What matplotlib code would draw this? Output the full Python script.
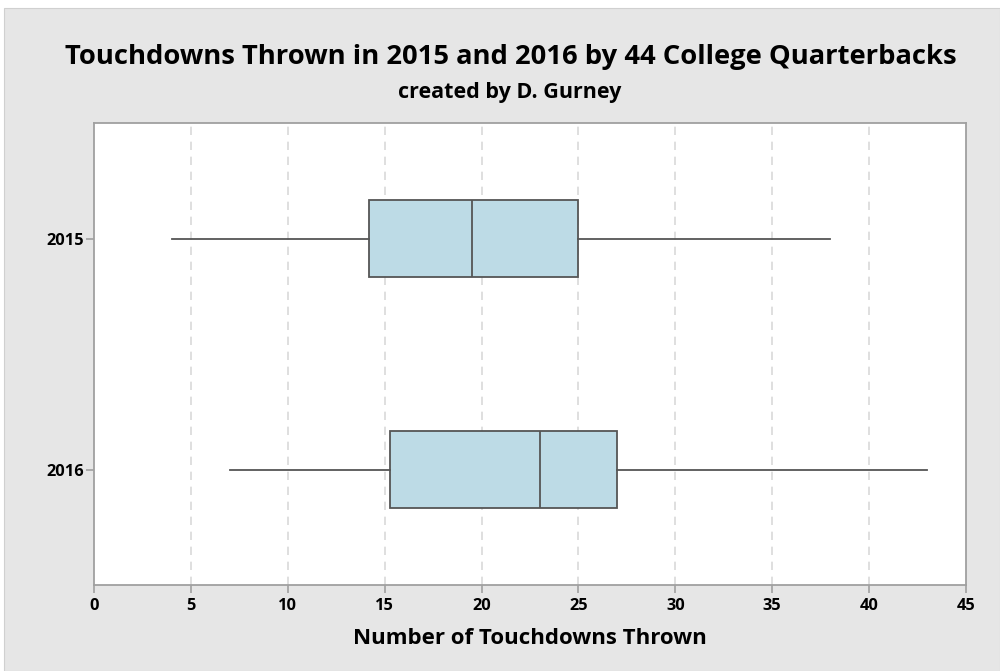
import matplotlib.pyplot as plt
from matplotlib.patches import Rectangle

plt.rcParams['font.family'] = ['Open Sans', 'DejaVu Sans']

# five-number summaries per season
years = ['2015', '2016']
lows = [4, 7]
q1s = [14.2, 15.25]
medians = [19.5, 23]
q3s = [25, 27]
highs = [38, 43]

fig = plt.figure(figsize=(10, 6.71), dpi=100)
fig.patch.set_facecolor('white')
fig.patches.append(Rectangle((0.004, 0), 0.996, 0.988, transform=fig.transFigure,
                             facecolor='#e6e6e6', edgecolor='#d0d0d0', lw=0.8, zorder=-1))

ax = fig.add_axes([0.094, 0.128, 0.872, 0.6886])
ax.set_facecolor('white')

stats = []
for yr, lo, a, m, b, hi in zip(years, lows, q1s, medians, q3s, highs):
    stats.append({'label': yr, 'whislo': lo, 'q1': a, 'med': m, 'q3': b, 'whishi': hi})

ax.bxp(stats, positions=range(len(years)), vert=False, widths=0.333,
       showcaps=False, showfliers=False, patch_artist=True,
       boxprops=dict(facecolor='#bddbe6', edgecolor='#555555', linewidth=1.3),
       medianprops=dict(color='#555555', linewidth=1.3),
       whiskerprops=dict(color='#555555', linewidth=1.3), zorder=3)

ax.set_xlim(0, 45)
ax.set_ylim(1.5, -0.5)
ax.set_xticks(range(0, 46, 5))
ax.set_yticks(range(len(years)))
ax.set_yticklabels(years)

for x in range(5, 45, 5):
    ax.axvline(x, color='#d9d9d9', linestyle=(0, (5, 4)), linewidth=1.2, zorder=1)

for side in ['top', 'right', 'left', 'bottom']:
    ax.spines[side].set_color('#a0a0a0')
    ax.spines[side].set_linewidth(1.3)

ax.tick_params(axis='both', colors='#a0a0a0', labelcolor='black', length=6, width=1.2,
               labelsize=11.8)
ax.tick_params(axis='y', pad=1.5)
for lab in ax.get_xticklabels() + ax.get_yticklabels():
    lab.set_fontweight('bold')

ax.set_xlabel('Number of Touchdowns Thrown', fontsize=16, fontweight='bold', labelpad=10)

fig.text(0.5105, 0.9046, 'Touchdowns Thrown in 2015 and 2016 by 44 College Quarterbacks',
         ha='center', va='baseline', fontsize=19.7, fontweight='bold')
fig.text(0.510, 0.854, 'created by D. Gurney', ha='center', va='baseline',
         fontsize=15.5, fontweight='bold')

fig.savefig('out.png', dpi=100, facecolor=fig.get_facecolor())
